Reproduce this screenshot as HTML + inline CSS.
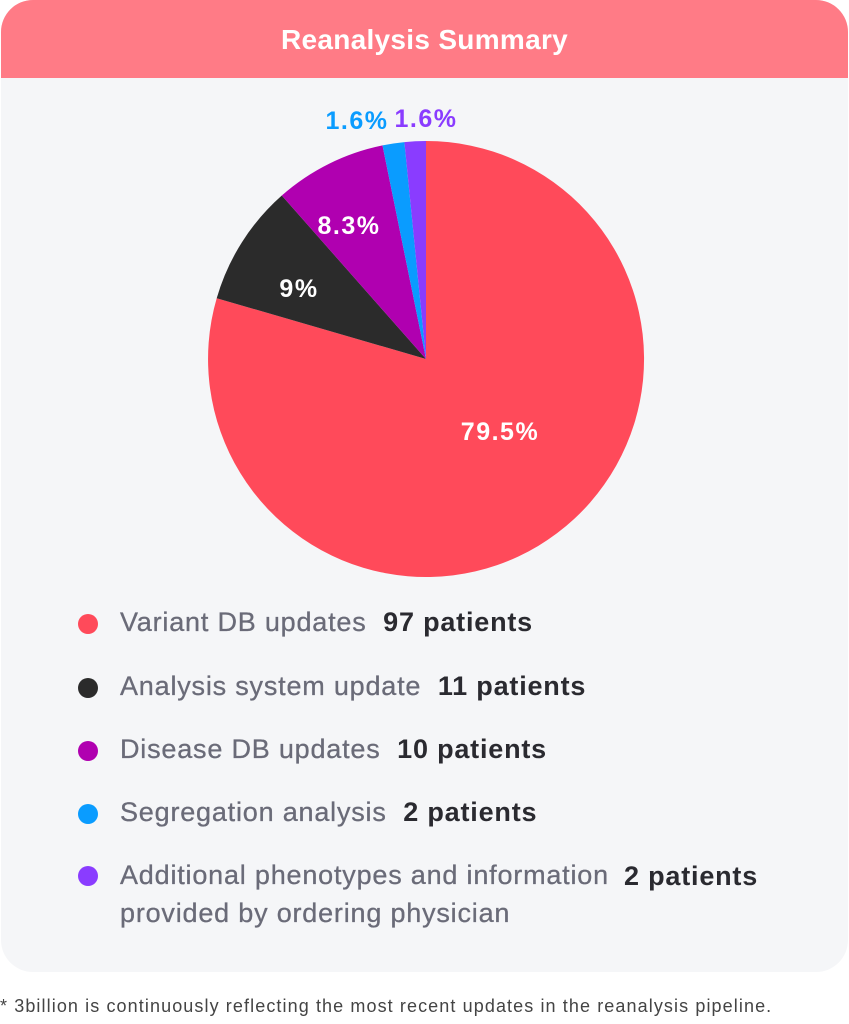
<!DOCTYPE html>
<html><head><style>
body{margin:0;width:849px;height:1024px;background:#fff;font-family:"Liberation Sans",sans-serif;position:relative;overflow:hidden}
.card{position:absolute;left:1px;top:0;width:847px;height:972px;background:#f5f6f8;border-radius:32px;overflow:hidden}
.hdr{height:78px;background:#ff7b86;color:#fff;font-weight:bold;font-size:28px;text-align:center;line-height:80px;letter-spacing:0.3px}
.leg{position:absolute;left:78px;font-size:27px;color:#6a6b78;letter-spacing:0.8px;-webkit-text-stroke:0.3px #6a6b78}
.dot{position:absolute;left:0;top:7px;width:20px;height:20px;border-radius:50%}
.leg span.t{position:absolute;left:42px;white-space:nowrap}
.leg b{color:#2a2a30;-webkit-text-stroke:0}
.foot{position:absolute;left:0;top:996px;font-size:18px;color:#444;white-space:nowrap;letter-spacing:1.1px}
</style></head><body>
<div class="card"><div class="hdr">Reanalysis Summary</div></div>
<svg style="position:absolute;left:0;top:0" width="849" height="1024">
<path d="M426,359 L426,141 A218,218 0 1,1 216.7,298.2 Z" fill="#ff4a5a"/>
<path d="M426,359 L216.7,298.2 A218,218 0 0,1 281.8,195.5 Z" fill="#2b2b2b"/>
<path d="M426,359 L281.8,195.5 A218,218 0 0,1 382.5,145.4 Z" fill="#b000b0"/>
<path d="M426,359 L382.5,145.4 A218,218 0 0,1 404.4,142.1 Z" fill="#0a9cff"/>
<path d="M426,359 L404.4,142.1 A218,218 0 0,1 426,141 Z" fill="#8a3cff"/>
<g font-family="Liberation Sans,sans-serif" font-weight="bold" font-size="25" text-anchor="middle" letter-spacing="1.5">
<text x="500" y="440" fill="#fff">79.5%</text>
<text x="299" y="297" fill="#fff">9%</text>
<text x="349" y="234" fill="#fff">8.3%</text>
<text x="357" y="129" fill="#0a9cff">1.6%</text>
<text x="426" y="127" fill="#8a3cff">1.6%</text>
</g></svg>
<div class="leg" style="top:607px"><div class="dot" style="background:#ff4a5a"></div><span class="t">Variant DB updates &nbsp;<b>97 patients</b></span></div>
<div class="leg" style="top:671px"><div class="dot" style="background:#2b2b2b"></div><span class="t">Analysis system update &nbsp;<b>11 patients</b></span></div>
<div class="leg" style="top:734px"><div class="dot" style="background:#b000b0"></div><span class="t">Disease DB updates &nbsp;<b>10 patients</b></span></div>
<div class="leg" style="top:797px"><div class="dot" style="background:#0a9cff"></div><span class="t">Segregation analysis &nbsp;<b>2 patients</b></span></div>
<div class="leg" style="top:859px"><div class="dot" style="background:#8a3cff"></div><span class="t" style="line-height:38px;top:-3px">Additional phenotypes and information<br>provided by ordering physician</span><span class="t" style="left:546px;top:2px"><b>2 patients</b></span></div>
<div class="foot">* 3billion is continuously reflecting the most recent updates in the reanalysis pipeline.</div>
</body></html>
